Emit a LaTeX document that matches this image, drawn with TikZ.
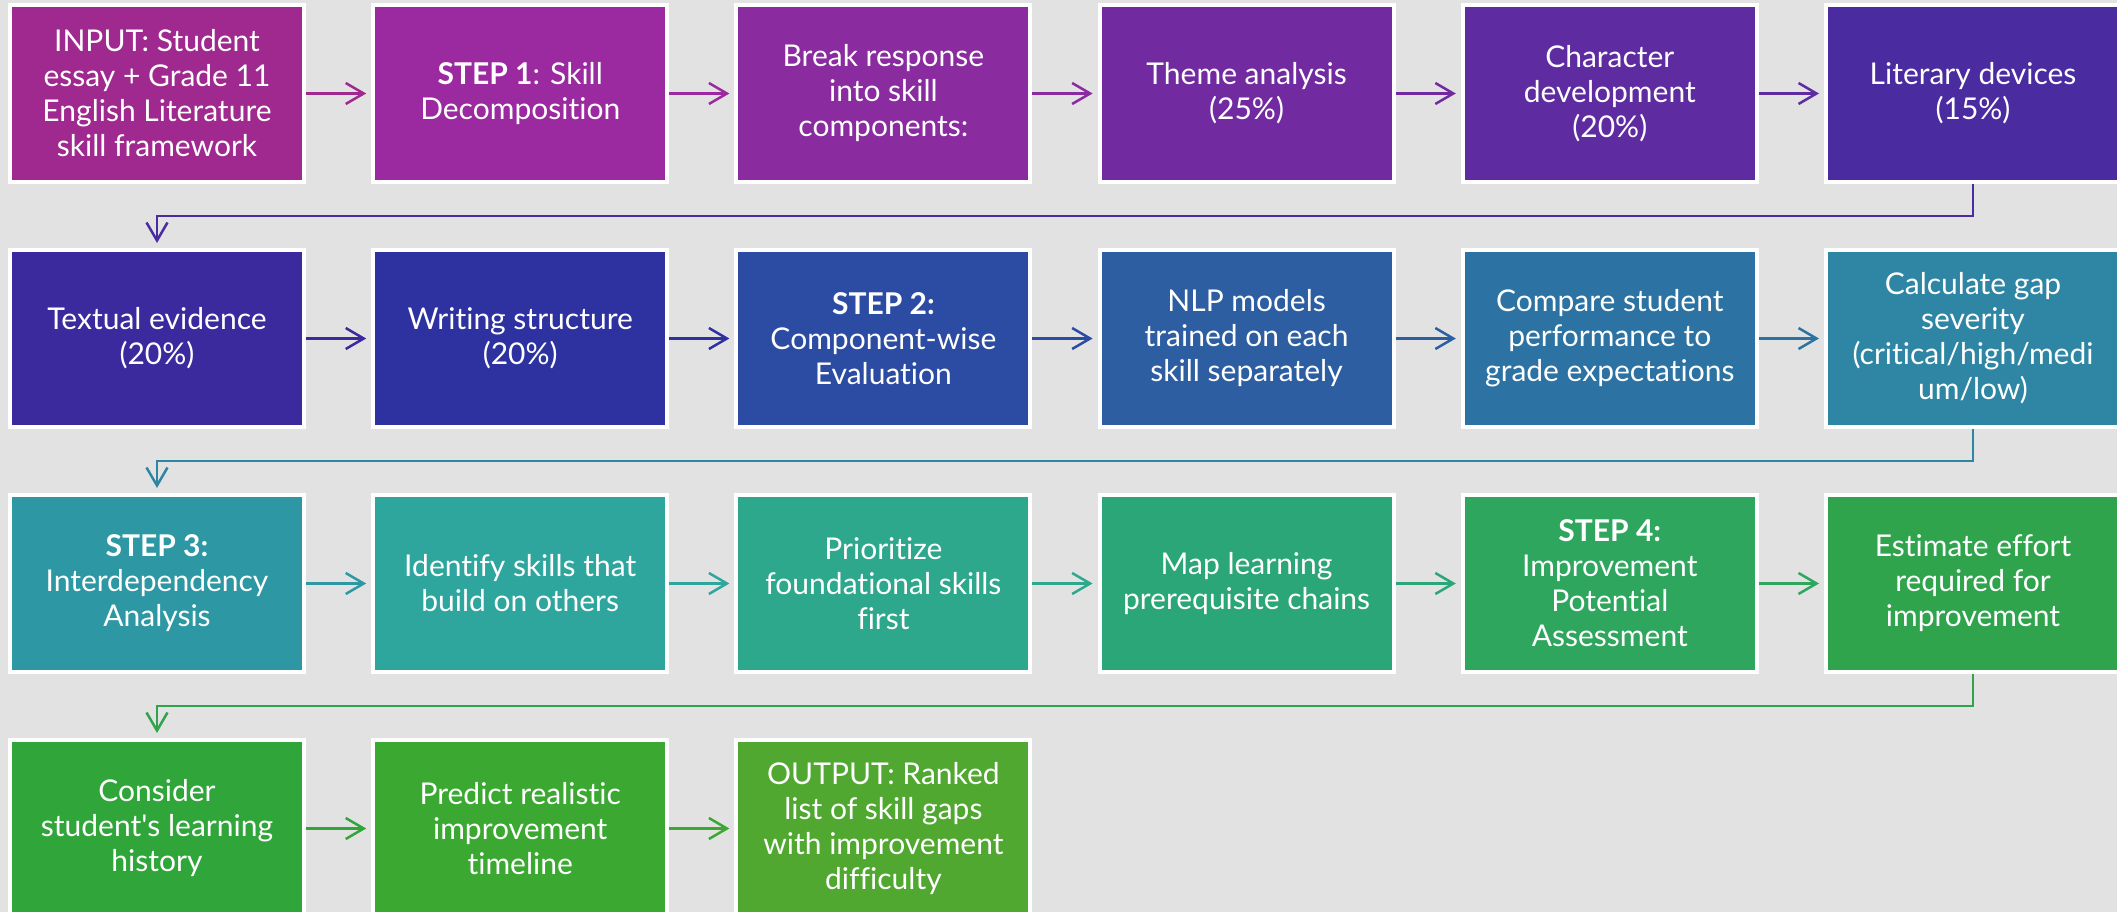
\documentclass[tikz,border=0pt]{standalone}
\usepackage{fontspec}
\setmainfont{Lato}[Ligatures=NoCommon]
\usetikzlibrary{arrows.meta}
\definecolor{bg}{HTML}{E2E2E2}
\definecolor{ca1}{HTML}{A0298F}
\definecolor{ca2}{HTML}{9B2AA0}
\definecolor{ca3}{HTML}{8A2BA0}
\definecolor{ca4}{HTML}{722AA0}
\definecolor{ca5}{HTML}{5E2BA0}
\definecolor{ca6}{HTML}{4A2BA0}
\definecolor{cb1}{HTML}{3A2A9E}
\definecolor{cb2}{HTML}{2E32A0}
\definecolor{cb3}{HTML}{2C4BA2}
\definecolor{cb4}{HTML}{2D5EA2}
\definecolor{cb5}{HTML}{2C72A2}
\definecolor{cb6}{HTML}{2E86A4}
\definecolor{cc1}{HTML}{2D98A4}
\definecolor{cc2}{HTML}{2EA69E}
\definecolor{cc3}{HTML}{2DA88C}
\definecolor{cc4}{HTML}{2BA678}
\definecolor{cc5}{HTML}{2EA65E}
\definecolor{cc6}{HTML}{2FA44C}
\definecolor{cd1}{HTML}{30A53A}
\definecolor{cd2}{HTML}{3BA832}
\definecolor{cd3}{HTML}{50A830}
\tikzset{
  box/.style={draw=white, line width=4pt, fill=#1, minimum width=294pt, minimum height=177pt,
    inner sep=0pt, text=white, align=center, font=\fontsize{30}{35}\selectfont},
  flow/.style={draw=#1, line width=2.5pt, -{Straight Barb[length=18pt,width=21pt]}, shorten >=5pt},
}
\begin{document}
\begin{tikzpicture}[x=1pt,y=-1pt]
\useasboundingbox (0,0) rectangle (2117,912);
\clip (0,0) rectangle (2117,912);
\fill[bg] (0,0) rectangle (2117,912);
% row 1
\node[box=ca1] (a1) at (157,93.5) {INPUT: Student\\essay + Grade 11\\English Literature\\skill framework};
\node[box=ca2] (a2) at (520.2,93.5) {\textbf{STEP 1}: Skill\\Decomposition};
\node[box=ca3] (a3) at (883.4,93.5) {Break response\\into skill\\components:};
\node[box=ca4] (a4) at (1246.6,93.5) {Theme analysis\\(25\%)};
\node[box=ca5] (a5) at (1609.8,93.5) {Character\\development\\(20\%)};
\node[box=ca6] (a6) at (1973,93.5) {Literary devices\\(15\%)};
% row 2
\node[box=cb1] (b1) at (157,338.5) {Textual evidence\\(20\%)};
\node[box=cb2] (b2) at (520.2,338.5) {Writing structure\\(20\%)};
\node[box=cb3] (b3) at (883.4,338.5) {\textbf{STEP 2:}\\Component-wise\\Evaluation};
\node[box=cb4] (b4) at (1246.6,338.5) {NLP models\\trained on each\\skill separately};
\node[box=cb5] (b5) at (1609.8,338.5) {Compare student\\performance to\\grade expectations};
\node[box=cb6] (b6) at (1973,338.5) {Calculate gap\\severity\\(critical/high/medi\\um/low)};
% row 3
\node[box=cc1] (c1) at (157,583.5) {\textbf{STEP 3:}\\Interdependency\\Analysis};
\node[box=cc2] (c2) at (520.2,583.5) {Identify skills that\\build on others};
\node[box=cc3] (c3) at (883.4,583.5) {Prioritize\\foundational skills\\first};
\node[box=cc4] (c4) at (1246.6,583.5) {Map learning\\prerequisite chains};
\node[box=cc5] (c5) at (1609.8,583.5) {\textbf{STEP 4:}\\Improvement\\Potential\\Assessment};
\node[box=cc6] (c6) at (1973,583.5) {Estimate effort\\required for\\improvement};
% row 4
\node[box=cd1] (d1) at (157,828.5) {Consider\\student\textquotesingle s learning\\history};
\node[box=cd2] (d2) at (520.2,828.5) {Predict realistic\\improvement\\timeline};
\node[box=cd3] (d3) at (883.4,828.5) {OUTPUT: Ranked\\list of skill gaps\\with improvement\\difficulty};
% horizontal arrows
\draw[flow=ca1] (a1.east) -- (a2.west);
\draw[flow=ca2] (a2.east) -- (a3.west);
\draw[flow=ca3] (a3.east) -- (a4.west);
\draw[flow=ca4] (a4.east) -- (a5.west);
\draw[flow=ca5] (a5.east) -- (a6.west);
\draw[flow=cb1] (b1.east) -- (b2.west);
\draw[flow=cb2] (b2.east) -- (b3.west);
\draw[flow=cb3] (b3.east) -- (b4.west);
\draw[flow=cb4] (b4.east) -- (b5.west);
\draw[flow=cb5] (b5.east) -- (b6.west);
\draw[flow=cc1] (c1.east) -- (c2.west);
\draw[flow=cc2] (c2.east) -- (c3.west);
\draw[flow=cc3] (c3.east) -- (c4.west);
\draw[flow=cc4] (c4.east) -- (c5.west);
\draw[flow=cc5] (c5.east) -- (c6.west);
\draw[flow=cd1] (d1.east) -- (d2.west);
\draw[flow=cd2] (d2.east) -- (d3.west);
% row-to-row connectors
\draw[flow=ca6] (a6.south) -- ++(0,32) -| (b1.north);
\draw[flow=cb6] (b6.south) -- ++(0,32) -| (c1.north);
\draw[flow=cc6] (c6.south) -- ++(0,32) -| (d1.north);
\end{tikzpicture}
\end{document}
